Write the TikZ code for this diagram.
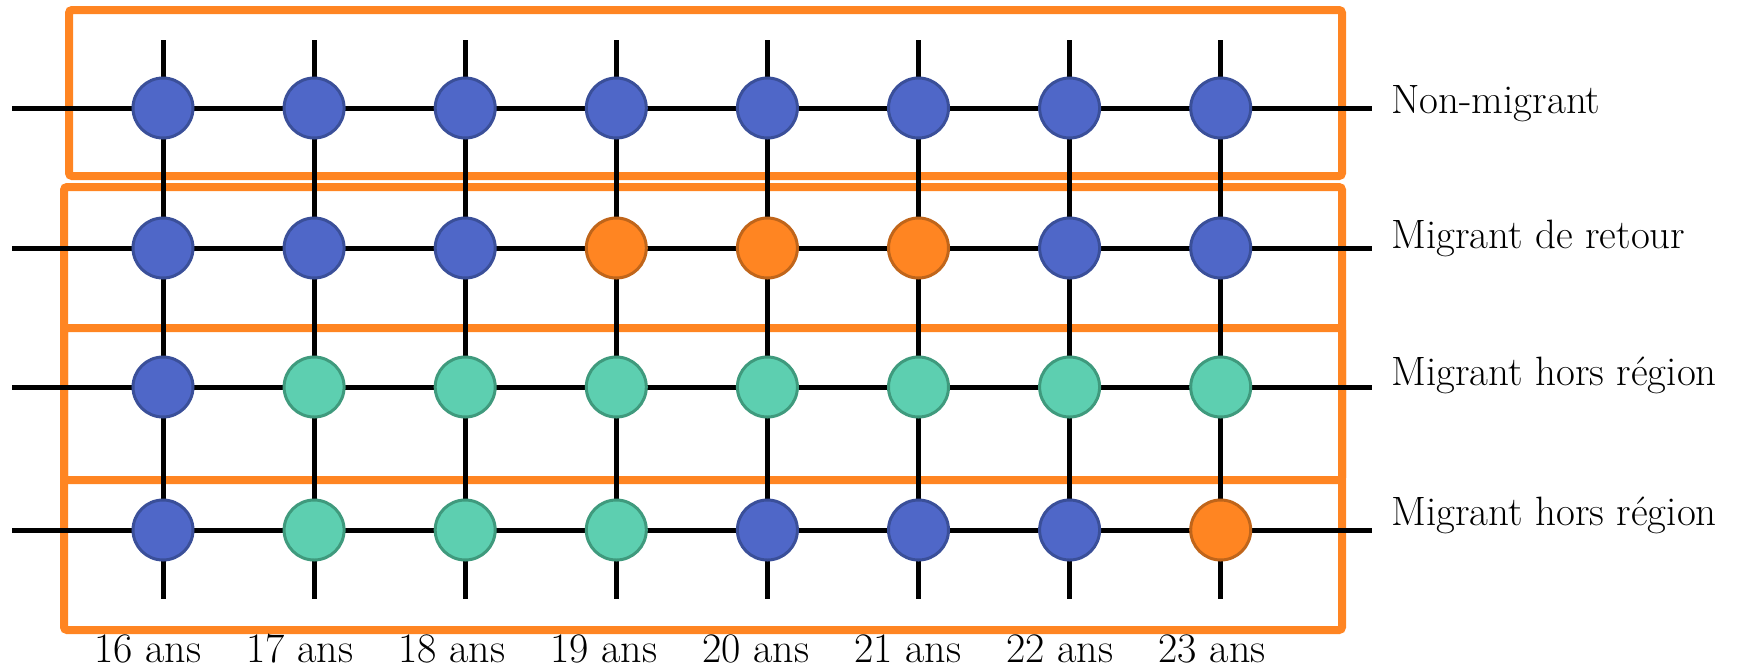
\documentclass[tikz,border=0pt]{standalone}
\usepackage{fontspec}
\usepackage{tikz}
\usetikzlibrary{positioning}
\definecolor{boxorange}{HTML}{FF8522}
\definecolor{dotblue}{HTML}{4F67C8}
\definecolor{dotblueline}{HTML}{3A4F99}
\definecolor{dotteal}{HTML}{5DCFB0}
\definecolor{dottealline}{HTML}{3F9A7D}
\definecolor{dotorange}{HTML}{FF8522}
\definecolor{dotorangeline}{HTML}{C0651A}
\tikzset{
  groupbox/.style={draw=boxorange,line width=4pt,rounded corners=1.5pt},
  gridline/.style={draw=black,line width=2.5pt},
  dot/.style={circle,line width=1.5pt,minimum size=30pt,inner sep=0pt,outer sep=0pt},
  blu/.style={dot,fill=dotblue,draw=dotblueline},
  tea/.style={dot,fill=dotteal,draw=dottealline},
  ora/.style={dot,fill=dotorange,draw=dotorangeline},
  rowlabel/.style={anchor=base west,inner sep=0pt,font=\fontsize{20.5}{24}\selectfont},
  agelabel/.style={anchor=base,inner sep=0pt,font=\fontsize{21}{24}\selectfont}
}

\begin{document}
\begin{tikzpicture}[x=0.5pt,y=-0.5pt]
\useasboundingbox (0,0) rectangle (1741,671);
% groupes
\draw[groupbox] (69,10) rectangle (1342,176);
\draw[groupbox] (64,187) rectangle (1342,480);
\draw[groupbox] (64,328) rectangle (1342,630);
% grille
\foreach \row/\yy in {1/108,2/248,3/387,4/530}{
  \coordinate (l\row) at (12,\yy);
  \coordinate (r\row) at (1372,\yy);
  \draw[gridline] (l\row) -- (r\row);
}
\foreach \col in {1,...,8}{
  \coordinate (t\col) at ({163+151.1*(\col-1)},40);
  \coordinate (b\col) at ({163+151.1*(\col-1)},599);
  \draw[gridline] (t\col) -- (b\col);
}
% etats
\foreach \row/\yy/\kinds in {1/108/{blu,blu,blu,blu,blu,blu,blu,blu},
                             2/248/{blu,blu,blu,ora,ora,ora,blu,blu},
                             3/387/{blu,tea,tea,tea,tea,tea,tea,tea},
                             4/530/{blu,tea,tea,tea,blu,blu,blu,ora}}{
  \foreach \k [count=\c] in \kinds
    \node[\k] (p\row-\c) at ({163+151.1*(\c-1)},\yy) {};
}
% etiquettes
\foreach \row/\yy/\txt in {1/113/Non-migrant,2/248/Migrant de retour,3/385/Migrant hors région,4/525/Migrant hors région}
  \node[rowlabel] (lab\row) at (1391,\yy) {\txt};
\foreach \age [count=\c] in {16,...,23}
  \node[agelabel] (age\c) at ({148+152*(\c-1)},662) {\age\ ans};
\end{tikzpicture}
\end{document}
